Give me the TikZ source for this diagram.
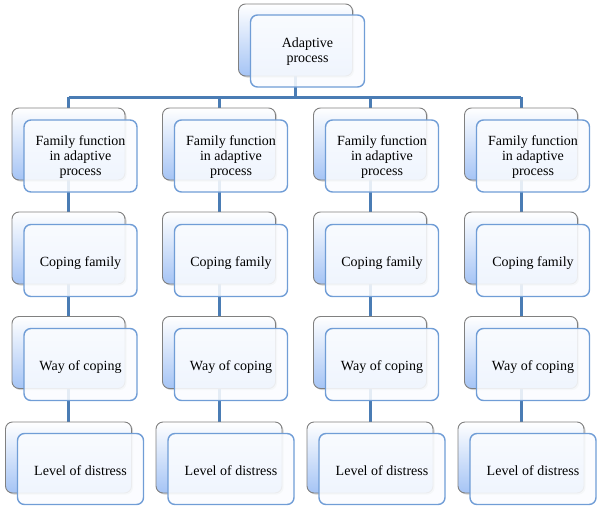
\documentclass[tikz,border=0pt]{standalone}
\usepackage{fontspec}
\setmainfont{Liberation Serif}
\usetikzlibrary{shadows}
\definecolor{busblue}{RGB}{74,124,180}
\definecolor{frontblue}{RGB}{112,157,214}
\definecolor{backbot}{RGB}{165,196,245}
\tikzset{
  conn/.style={draw=busblue,line width=3pt},
  backbox/.style={draw=black!50,line width=0.9pt,rounded corners=7pt,
    top color=white,bottom color=backbot,minimum width=113pt,minimum height=72pt,
    drop shadow={shadow xshift=1.5pt,shadow yshift=-1.5pt,opacity=0.35}},
  frontbox/.style={draw=frontblue,line width=1.4pt,rounded corners=7pt,
    fill={rgb,255:red,250;green,252;blue,255},fill opacity=0.88,
    minimum width=113pt,minimum height=72pt},
  label/.style={align=center,inner sep=0pt,
    font=\fontsize{14}{14.8}\selectfont,text=black},
  wide/.style={minimum width=126pt,minimum height=71pt},
  topsize/.style={minimum width=114pt,minimum height=72pt}
}
\begin{document}
\begin{tikzpicture}[x=1pt,y=-1pt]
\useasboundingbox (0,0) rectangle (597,506);
\coordinate (bus) at (293,97);
\foreach \c/\x in {1/68.5,2/219,3/370,4/521}{
  \coordinate (c\c r1) at (\x,144);
  \coordinate (c\c r2) at (\x,248);
  \coordinate (c\c r3) at (\x,352.5);
  \coordinate (c\c r4) at (\x,457.5);
}
\coordinate (topc) at (295.5,40);
\draw[conn] (topc) -- (topc |- bus);
\draw[conn] (c1r1 |- bus) -- (c4r1 |- bus);
\foreach \c in {1,2,3,4}{
  \draw[conn] (c\c r1 |- bus) -- (c\c r4);
}
% top
\node[backbox,topsize] (topB) at (topc) {};
\node[frontbox,topsize] (topF) at ([shift={(12,11)}]topB.center) {};
\node[label] (topT) at ([yshift=-1]topF.center) {Adaptive\\process};
\foreach \c in {1,2,3,4}{
  \node[backbox] (B\c a) at (c\c r1) {};
  \node[frontbox] (F\c a) at ([shift={(12,12)}]B\c a.center) {};
  \node[label] (T\c a) at ([yshift=-1]F\c a.center) {Family function\\in adaptive\\process};
  \node[backbox] (B\c b) at (c\c r2) {};
  \node[frontbox] (F\c b) at ([shift={(12,12.5)}]B\c b.center) {};
  \node[label] (T\c b) at ([yshift=-2.5]F\c b.center) {Coping family};
  \node[backbox] (B\c c) at (c\c r3) {};
  \node[frontbox] (F\c c) at ([shift={(12,12)}]B\c c.center) {};
  \node[label] (T\c c) at ([yshift=-2.5]F\c c.center) {Way of coping};
  \node[backbox,wide] (B\c d) at (c\c r4) {};
  \node[frontbox,wide] (F\c d) at ([shift={(12,11.5)}]B\c d.center) {};
  \node[label] (T\c d) at ([yshift=-2]F\c d.center) {Level of distress};
}
\end{tikzpicture}
\end{document}
